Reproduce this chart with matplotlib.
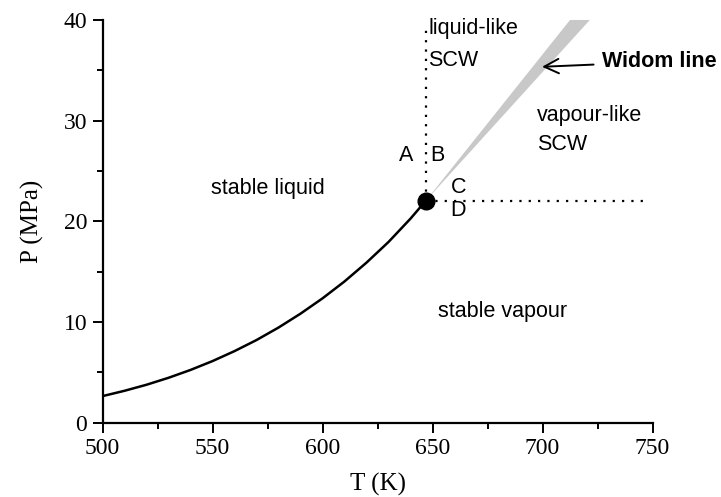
import matplotlib
matplotlib.use("Agg")
import matplotlib.pyplot as plt
from matplotlib.ticker import MultipleLocator

# Saturation (coexistence) curve of water
T_sat = [500, 510, 520, 530, 540, 550, 560, 570, 580, 590, 600, 610, 620, 630, 640, 647]
P_sat = [2.64, 3.17, 3.77, 4.46, 5.24, 6.12, 7.11, 8.21, 9.45, 10.83, 12.35, 14.03, 15.90, 17.95, 20.27, 22.06]

T_crit = 647
P_crit = 22.06

# Widom line band (gray wedge): from critical point to top edge
widom_T_top = [712.5, 721.5]
widom_P_top = 40

# Dotted lines
T_dot_end = 746
P_dot_end = 39.2

serif = ["Liberation Serif", "DejaVu Serif"]
sans = ["Liberation Sans", "DejaVu Sans"]

fig = plt.figure(figsize=(7.21, 4.97), dpi=100)
ax = fig.add_axes([0.1422, 0.1495, 0.7628, 0.8103])

ax.fill([T_crit, widom_T_top[0], widom_T_top[1]], [P_crit, widom_P_top, widom_P_top],
        color="#c8c8c8", lw=0, zorder=1, clip_on=False)
ax.plot([T_crit, T_crit], [P_crit, P_dot_end], ls=(0, (1, 3.2)), color="black", lw=1.6, zorder=2)
ax.plot([T_crit, T_dot_end], [P_crit, P_crit], ls=(0, (1, 3.2)), color="black", lw=1.6, zorder=2)
ax.plot(T_sat, P_sat, color="black", lw=1.8, zorder=3)
ax.plot([T_crit], [P_crit], "o", color="black", ms=12, zorder=4)

fs = 15.5
ax.text(648.2, 39.2, "liquid-like", family=sans, fontsize=fs, va="center", ha="left")
ax.text(648.2, 36.0, "SCW", family=sans, fontsize=fs, va="center", ha="left")
ax.text(638, 26.5, "A", family=sans, fontsize=fs, va="center", ha="center")
ax.text(652.3, 26.5, "B", family=sans, fontsize=fs, va="center", ha="center")
ax.text(661.7, 23.4, "C", family=sans, fontsize=fs, va="center", ha="center")
ax.text(661.7, 21.1, "D", family=sans, fontsize=fs, va="center", ha="center")
ax.text(697.6, 30.55, "vapour-like", family=sans, fontsize=fs, va="center", ha="left")
ax.text(697.6, 27.6, "SCW", family=sans, fontsize=fs, va="center", ha="left")
ax.text(575.1, 23.3, "stable liquid", family=sans, fontsize=fs, va="center", ha="center")
ax.text(681.7, 11.0, "stable vapour", family=sans, fontsize=fs, va="center", ha="center")

ax.annotate("Widom line", xy=(699.8, 35.35), xytext=(727, 35.85),
            family=sans, fontsize=fs, fontweight="bold", va="center", ha="left",
            annotation_clip=False,
            arrowprops=dict(arrowstyle="->", color="black", lw=1.4, shrinkA=4, shrinkB=0,
                            mutation_scale=26))

ax.set_xlim(500, 750)
ax.set_ylim(0, 40)
ax.xaxis.set_major_locator(MultipleLocator(50))
ax.xaxis.set_minor_locator(MultipleLocator(25))
ax.yaxis.set_major_locator(MultipleLocator(10))
ax.yaxis.set_minor_locator(MultipleLocator(5))
for s in ["top", "right"]:
    ax.spines[s].set_visible(False)
for s in ["left", "bottom"]:
    ax.spines[s].set_linewidth(1.6)
ax.tick_params(which="major", direction="out", length=7, width=1.4, labelsize=17, pad=4)
ax.tick_params(which="minor", direction="out", length=4, width=1.4)
for lbl in ax.get_xticklabels() + ax.get_yticklabels():
    lbl.set_family(serif)
ax.set_xlabel("T (K)", family=serif, fontsize=18, labelpad=10)
ax.set_ylabel("P (MPa)", family=serif, fontsize=18, labelpad=14)

fig.savefig("out.png", dpi=100)
